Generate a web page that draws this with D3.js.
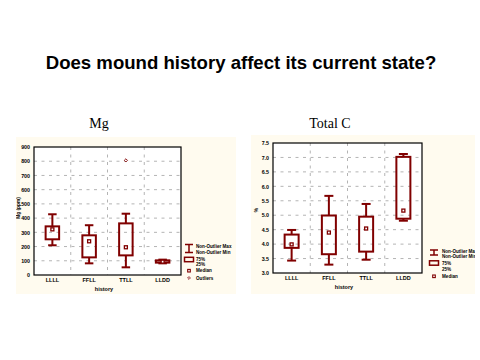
<!DOCTYPE html>
<html><head><meta charset="utf-8">
<script src="https://cdn.jsdelivr.net/npm/d3@7"></script>
<style>body{margin:0;background:#fff}svg{display:block}</style>
</head><body>
<script>
const categories = ["LLLL","FFLL","TTLL","LLDD"];
// Mg (ppm)
const mgMax = [427,350,431,108];
const mgQ3  = [342,279,363,103];
const mgMed = [321,237,195,94];
const mgQ1  = [251,124,138,87];
const mgMin = [209,82,54,82];
const mgOutliers = [{cat:"TTLL", v:806}];
const mgTicks = [0,100,200,300,400,500,600,700,800,900];
// Total C (%)
const tcMax = [4.49,5.67,5.39,7.12];
const tcQ3  = [4.33,4.99,4.95,7.02];
const tcMed = [3.99,4.40,4.54,5.16];
const tcQ1  = [3.87,3.65,3.74,4.88];
const tcMin = [3.43,3.29,3.46,4.81];
const tcTicks = [3.0,3.5,4.0,4.5,5.0,5.5,6.0,6.5,7.0,7.5];

const W=480,H=360, RED="#800000";
const svg=d3.select("body").append("svg").attr("width",W).attr("height",H);

svg.append("text").attr("x",241).attr("y",69).attr("text-anchor","middle")
  .attr("font-family","Liberation Sans, Arial, sans-serif").attr("font-weight","bold")
  .attr("font-size",18.6).text("Does mound history affect its current state?");
svg.append("text").attr("x",99).attr("y",128).attr("text-anchor","middle")
  .attr("font-family","Liberation Serif, Times New Roman, serif").attr("font-size",14).text("Mg");
svg.append("text").attr("x",330).attr("y",128).attr("text-anchor","middle")
  .attr("font-family","Liberation Serif, Times New Roman, serif").attr("font-size",14).text("Total C");

function chart(o){
  const cid="clip"+o.id;
  svg.append("clipPath").attr("id",cid).append("rect")
    .attr("x",o.px).attr("y",o.py).attr("width",o.pw).attr("height",o.ph);
  const g=svg.append("g").attr("clip-path",`url(#${cid})`);
  g.append("rect").attr("x",o.px).attr("y",o.py).attr("width",o.pw).attr("height",o.ph).attr("fill","#fffbef");
  const x=d3.scaleBand().domain(categories).range([o.l,o.r]);
  const y=d3.scaleLinear().domain([o.ticks[0],o.ticks[o.ticks.length-1]]).range([o.b,o.t]);
  g.append("rect").attr("x",o.l).attr("y",o.t).attr("width",o.r-o.l).attr("height",o.b-o.t).attr("fill","#fff");
  // grid
  g.selectAll(".hg").data(o.ticks.slice(1,-1)).join("line")
    .attr("x1",o.l).attr("x2",o.r).attr("y1",d=>y(d)).attr("y2",d=>y(d))
    .attr("stroke","#b4b4b4").attr("stroke-dasharray","3,4.5");
  g.selectAll(".vg").data(categories.slice(1)).join("line")
    .attr("x1",d=>x(d)).attr("x2",d=>x(d)).attr("y1",o.t).attr("y2",o.b)
    .attr("stroke","#b4b4b4").attr("stroke-dasharray","3,4.5");
  g.append("rect").attr("x",o.l).attr("y",o.t).attr("width",o.r-o.l).attr("height",o.b-o.t)
    .attr("fill","none").attr("stroke","#000").attr("stroke-width",1.2);
  // y axis
  const ya=g.append("g").attr("transform",`translate(${o.l},0)`)
    .call(d3.axisLeft(y).tickValues(o.ticks).tickSize(0).tickPadding(4).tickFormat(o.fmt));
  ya.select(".domain").remove();
  ya.selectAll("text").attr("font-family","Liberation Sans, Arial, sans-serif").attr("font-weight","bold").attr("font-size",5.3).attr("fill","#000");
  const xa=g.append("g").attr("transform",`translate(0,${o.b})`)
    .call(d3.axisBottom(x).tickSize(0).tickPadding(3.5));
  xa.select(".domain").remove();
  xa.selectAll("text").attr("font-family","Liberation Sans, Arial, sans-serif").attr("font-weight","bold").attr("font-size",5.5).attr("fill","#000");
  g.append("text").attr("x",o.xlx).attr("y",o.xly).attr("text-anchor","middle")
    .attr("font-family","Liberation Sans, Arial, sans-serif").attr("font-weight","bold").attr("font-size",5.5).text(o.xlabel);
  g.append("text").attr("transform",`translate(${o.ylx},${o.yly}) rotate(-90)`).attr("text-anchor","middle")
    .attr("font-family","Liberation Sans, Arial, sans-serif").attr("font-weight","bold").attr("font-size",4.8).text(o.ylabel);
  // boxes
  const bw=o.bw, cw=o.cw;
  const rows=categories.map((c,i)=>({c,max:o.max[i],q3:o.q3[i],med:o.med[i],q1:o.q1[i],min:o.min[i]}));
  const bg=g.selectAll(".box").data(rows).join("g");
  const cx=d=>x(d.c)+x.bandwidth()/2;
  bg.append("line").attr("x1",cx).attr("x2",cx).attr("y1",d=>y(d.max)).attr("y2",d=>y(d.q3)).attr("stroke",RED).attr("stroke-width",2);
  bg.append("line").attr("x1",cx).attr("x2",cx).attr("y1",d=>y(d.q1)).attr("y2",d=>y(d.min)).attr("stroke",RED).attr("stroke-width",2);
  bg.append("line").attr("x1",d=>cx(d)-cw/2).attr("x2",d=>cx(d)+cw/2).attr("y1",d=>y(d.max)).attr("y2",d=>y(d.max)).attr("stroke",RED).attr("stroke-width",2);
  bg.append("line").attr("x1",d=>cx(d)-cw/2).attr("x2",d=>cx(d)+cw/2).attr("y1",d=>y(d.min)).attr("y2",d=>y(d.min)).attr("stroke",RED).attr("stroke-width",2);
  bg.append("rect").attr("x",d=>cx(d)-bw/2).attr("width",bw).attr("y",d=>y(d.q3)).attr("height",d=>y(d.q1)-y(d.q3))
    .attr("fill","none").attr("stroke",RED).attr("stroke-width",2);
  bg.append("rect").attr("x",d=>cx(d)-1.5).attr("y",d=>y(d.med)-1.5).attr("width",3).attr("height",3)
    .attr("fill","#fff").attr("stroke",RED).attr("stroke-width",1.3);
  (o.outliers||[]).forEach(p=>{
    const px=x(p.cat)+x.bandwidth()/2, py=y(p.v);
    g.append("path").attr("d",`M${px},${py-1.6}L${px+1.6},${py}L${px},${py+1.6}L${px-1.6},${py}Z`)
      .attr("fill","#fff").attr("stroke",RED).attr("stroke-width",0.9);
  });
  // legend
  const L=o.leg, tf="Liberation Sans, Arial, sans-serif";
  const lt=(t,yy)=>g.append("text").attr("x",L.tx).attr("y",yy+1.6).attr("font-family",tf).attr("font-weight","bold").attr("font-size",4.6).text(t);
  g.append("path").attr("d",`M${L.sx-4},${L.y1}H${L.sx+4}M${L.sx},${L.y1}V${L.y1+L.wh}M${L.sx-4},${L.y1+L.wh}H${L.sx+4}`)
    .attr("stroke",RED).attr("stroke-width",1.5).attr("fill","none");
  lt("Non-Outlier Max",L.t1); lt("Non-Outlier Min",L.t1+5.6);
  g.append("rect").attr("x",L.sx-4.5).attr("y",L.y2-2.2).attr("width",9).attr("height",4.4)
    .attr("fill","none").attr("stroke",RED).attr("stroke-width",1.5);
  lt("75%",L.t2); lt("25%",L.t2+5.6);
  g.append("rect").attr("x",L.sx-1.3).attr("y",L.y3-1.3).attr("width",2.6).attr("height",2.6)
    .attr("fill","#fff").attr("stroke",RED).attr("stroke-width",1.1);
  lt("Median",L.y3);
  if(o.outliers){
    const yy=L.y3+7.3;
    g.append("path").attr("d",`M${L.sx},${yy-1.4}L${L.sx+1.4},${yy}L${L.sx},${yy+1.4}L${L.sx-1.4},${yy}Z`)
      .attr("fill","#fff").attr("stroke",RED).attr("stroke-width",0.8);
    lt("Outliers",yy);
  }
}

chart({id:"mg",px:16,py:137,pw:220,ph:157,l:34,r:181,t:147,b:275,ticks:mgTicks,fmt:d3.format("d"),
  max:mgMax,q3:mgQ3,med:mgMed,q1:mgQ1,min:mgMin,outliers:mgOutliers,bw:13.5,cw:8.5,
  xlabel:"history",xlx:104,xly:291,ylabel:"Mg (ppm)",ylx:19.8,yly:208,
  leg:{sx:189,tx:196,y1:244.5,wh:8,t1:246.7,y2:259.5,t2:259,y3:270.7}});
chart({id:"tc",px:251,py:135,pw:224,ph:159,l:273,r:422,t:143,b:273,ticks:tcTicks,fmt:d3.format(".1f"),
  max:tcMax,q3:tcQ3,med:tcMed,q1:tcQ1,min:tcMin,outliers:null,bw:14,cw:9,
  xlabel:"history",xlx:344,xly:289,ylabel:"%",ylx:258,yly:210,
  leg:{sx:434,tx:442,y1:250,wh:5,t1:251,y2:263,t2:263.7,y3:276.3}});
</script>
</body></html>
